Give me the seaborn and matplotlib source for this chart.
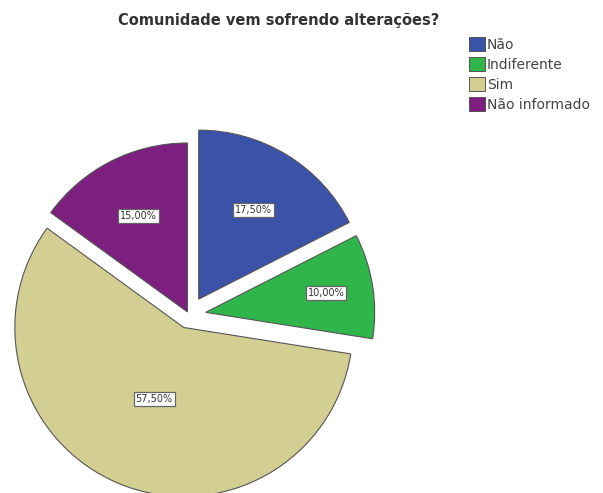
import matplotlib
matplotlib.use("Agg")
import matplotlib.pyplot as plt
import matplotlib.patches as mpatches
import seaborn as sns

sns.set_style("white")
plt.rcParams["font.family"] = ["DejaVu Sans"]

categories = ["Não", "Indiferente", "Sim", "Não informado"]
percentages = [17.5, 10.0, 57.5, 15.0]
colors = ["#3a52a8", "#30b54a", "#d3ce92", "#7d1f7f"]
explode = [0.11, 0.10, 0.08, 0.02]
label_dist = [0.62, 0.72, 0.46, 0.64]
title = "Comunidade vem sofrendo alterações?"

fig = plt.figure(figsize=(6.03, 4.93), dpi=100)
ax = fig.add_axes([0, 0, 1, 1])

# pie centre / radius in pixels, used to set the axes limits
cx, cy, r = 189, 315, 169
W, H = 603, 493

pct = 0.68
wedges, texts, autotexts = ax.pie(
    percentages,
    colors=colors,
    explode=explode,
    startangle=90,
    counterclock=False,
    radius=1.0,
    autopct=lambda p: f"{p:.2f}%".replace(".", ","),
    pctdistance=pct,
    wedgeprops=dict(edgecolor="#555555", linewidth=0.8),
    textprops=dict(fontsize=7, color="#333333"),
)
for t, e, d in zip(autotexts, explode, label_dist):
    x, y = t.get_position()
    k = (e + d) / (e + pct)
    t.set_position((x * k, y * k))
    t.set_bbox(dict(facecolor="white", edgecolor="#666666", boxstyle="square,pad=0.2", linewidth=0.9))

ax.set_xlim(-cx / r, (W - cx) / r)
ax.set_ylim(-(H - cy) / r, cy / r)
ax.set_aspect("auto")
ax.axis("off")

fig.text(279 / W, 1 - 20 / H, title, ha="center", va="center",
         fontsize=10.5, fontweight="bold", color="#333333")

handles = [mpatches.Patch(facecolor=c, edgecolor="#444444", linewidth=0.6) for c in colors]
fig.legend(handles, categories, loc="upper left", bbox_to_anchor=(469 / W, 1 - 37 / H),
           frameon=False, fontsize=10, handlelength=1.15, handleheight=1.15,
           handletextpad=0.15, labelspacing=0.4, borderaxespad=0, borderpad=0,
           labelcolor="#444444")

fig.savefig("out.png", dpi=100, facecolor="white")
